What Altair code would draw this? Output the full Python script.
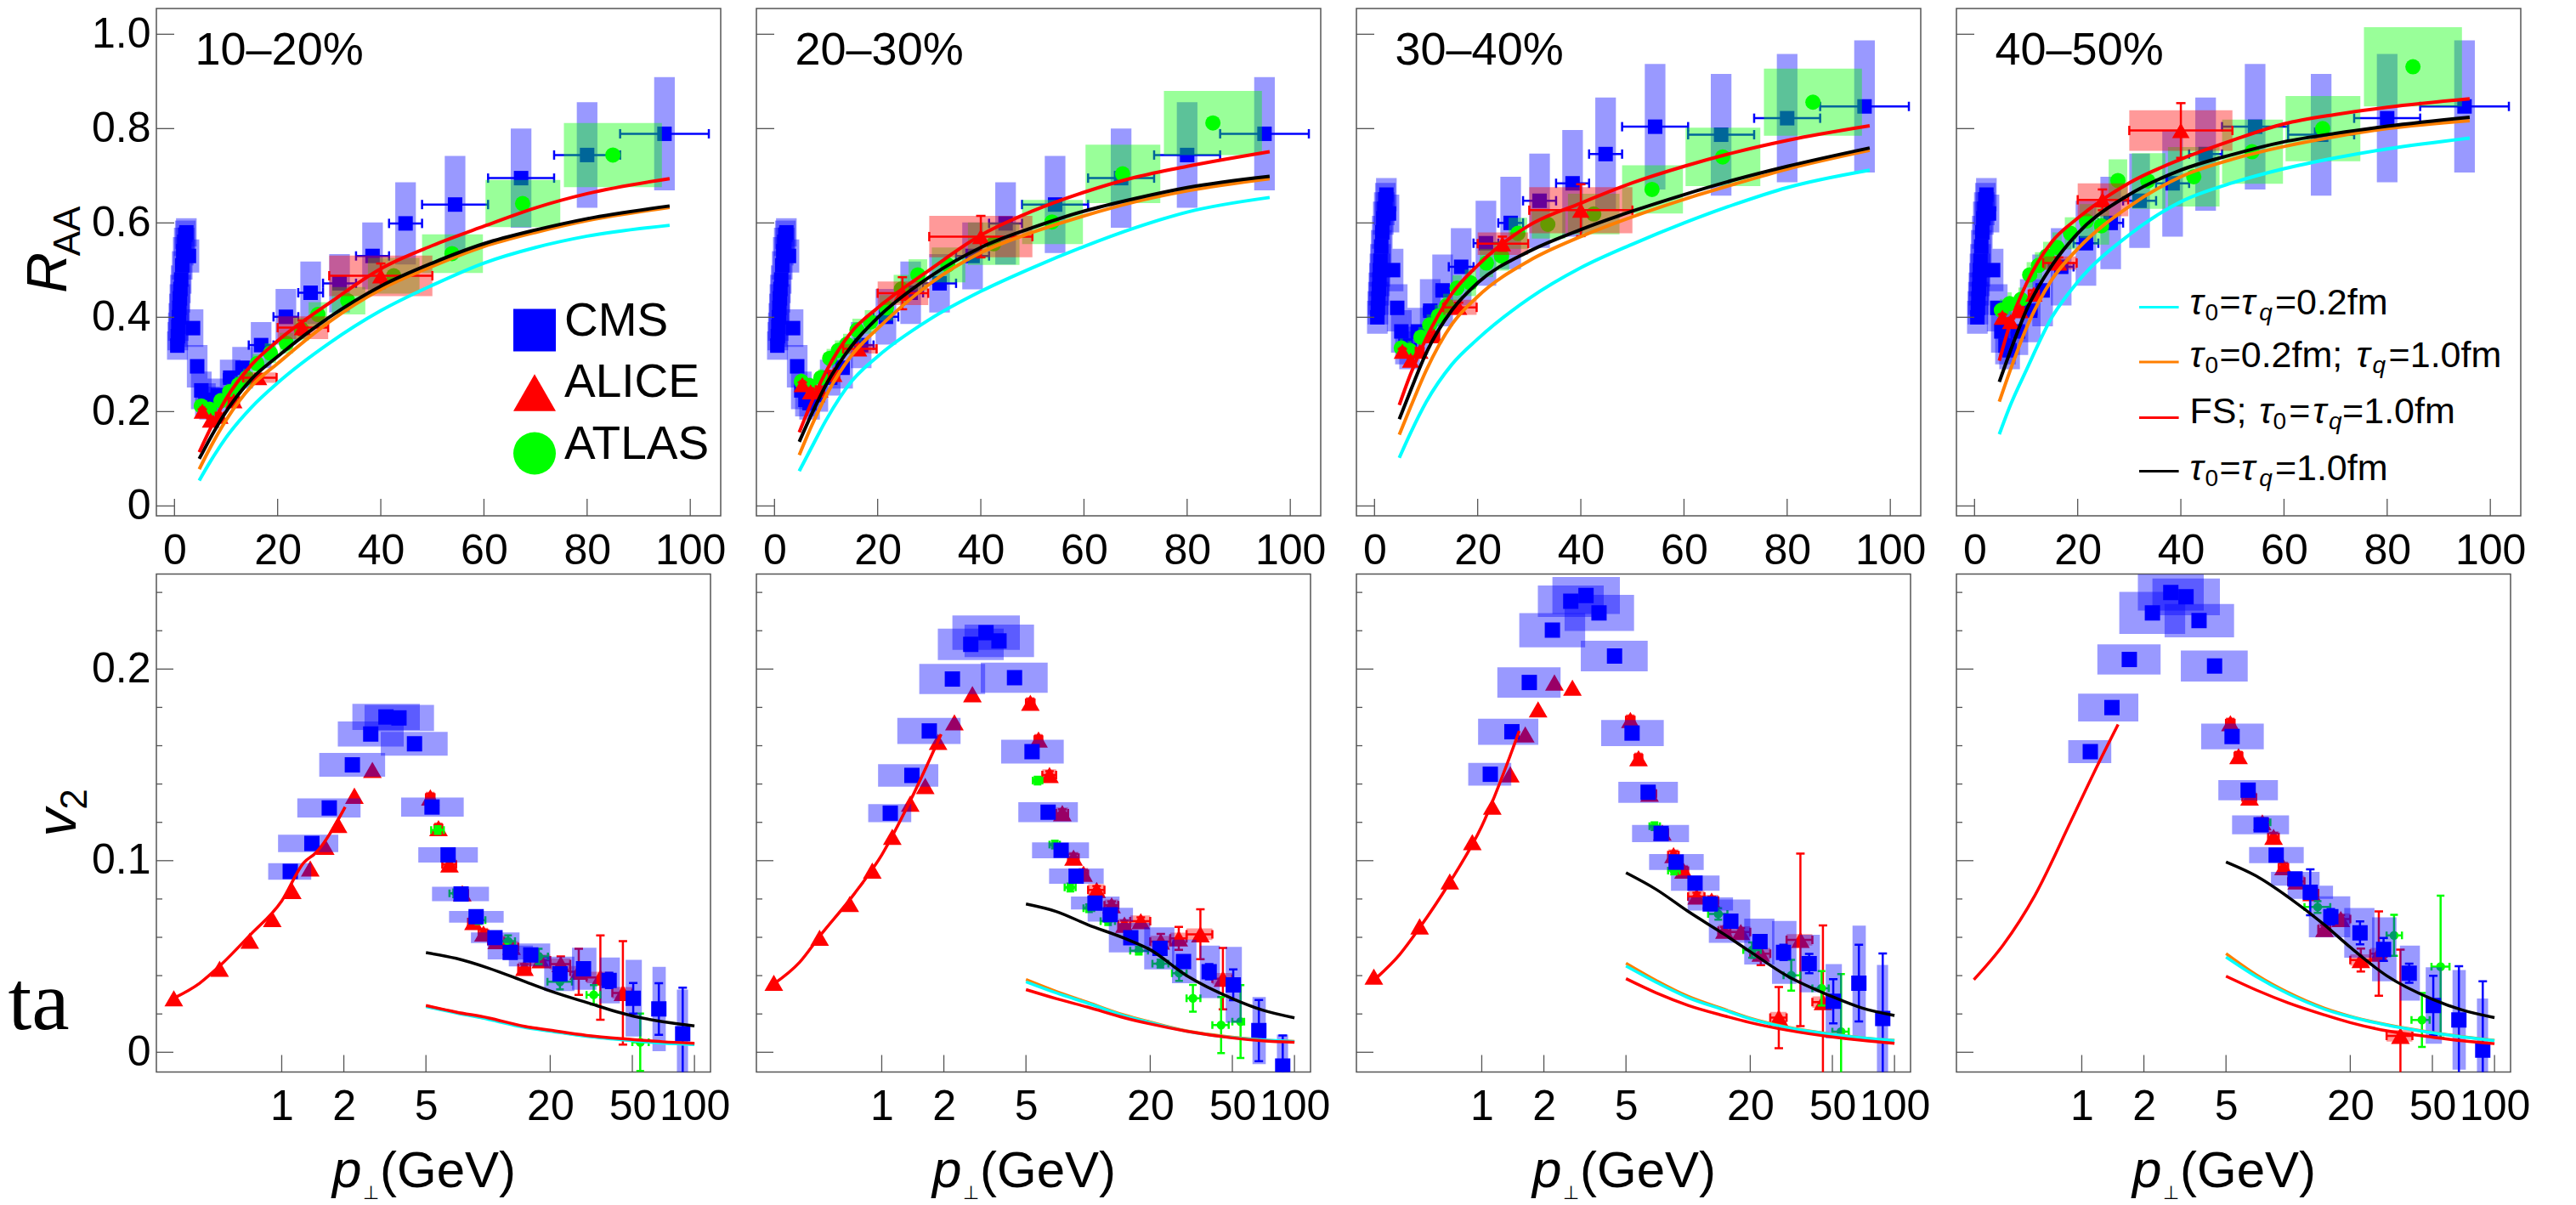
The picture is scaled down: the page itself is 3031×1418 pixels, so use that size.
import altair as alt
import pandas as pd

FONT = "Liberation Sans"
SERIF = "Liberation Serif"
SYMF = "DejaVu Sans"

# ---------------- labels / ticks ----------------
top_titles = ["10–20%", "20–30%", "30–40%", "40–50%"]
top_xticks = [0, 20, 40, 60, 80, 100]
top_yticks = [0, 0.2, 0.4, 0.6, 0.8, 1.0]
bot_xticks = [1, 2, 5, 20, 50, 100]
bot_yticks_major = [0, 0.1, 0.2]
bot_yticks_minor = [0.02, 0.04, 0.06, 0.08, 0.12, 0.14, 0.16, 0.18, 0.22, 0.24]

# ---------------- R_AA : CMS ----------------
cms_raa_edges = [0.5, 0.6, 0.7, 0.8, 0.9, 1.0, 1.1, 1.2, 1.4, 1.6, 1.8, 2.0, 2.2, 2.4, 3.2, 4.0, 4.8,
                 5.6, 6.4, 7.2, 9.6, 12.0, 14.4, 19.2, 24.0, 28.8, 35.2, 41.6, 48.0, 60.8, 73.6, 86.4, 103.6]
cms_raa_10_30 = [0.34, 0.36, 0.38, 0.40, 0.42, 0.44, 0.46, 0.48, 0.51, 0.54, 0.56, 0.575, 0.58, 0.53,
                 0.377, 0.296, 0.245, 0.225, 0.218, 0.235, 0.272, 0.293, 0.341, 0.401, 0.452, 0.472,
                 0.53, 0.599, 0.639, 0.695, 0.744, 0.789]
cms_raa_sys_10_30 = [0.03, 0.03, 0.03, 0.03, 0.03, 0.03, 0.03, 0.03, 0.03, 0.03, 0.03, 0.03, 0.03, 0.035,
                     0.04, 0.045, 0.04, 0.035, 0.035, 0.035, 0.038, 0.044, 0.049, 0.059, 0.066, 0.062,
                     0.071, 0.087, 0.103, 0.105, 0.112, 0.12]
cms_raa_30_50 = [0.40, 0.42, 0.44, 0.46, 0.48, 0.50, 0.52, 0.55, 0.58, 0.61, 0.63, 0.65, 0.66, 0.62,
                 0.50, 0.42, 0.37, 0.34, 0.33, 0.37, 0.414, 0.457, 0.507, 0.557, 0.60, 0.647, 0.684,
                 0.746, 0.804, 0.787, 0.822, 0.847]
cms_raa_sys_30_50 = [0.035, 0.035, 0.035, 0.035, 0.035, 0.035, 0.035, 0.035, 0.035, 0.035, 0.035, 0.035,
                     0.035, 0.04, 0.045, 0.05, 0.045, 0.04, 0.04, 0.05, 0.067, 0.076, 0.082, 0.09, 0.098,
                     0.10, 0.113, 0.12, 0.133, 0.129, 0.136, 0.14]

# ---------------- R_AA : ALICE ----------------
alice_raa_pt = [5.4, 7.0, 8.8, 11.5, 16.3, 24.8, 40.0]
alice_raa_lo = [5.0, 6.5, 8.0, 10.5, 13.3, 20.0, 30.0]
alice_raa_hi = [5.8, 7.5, 9.5, 12.5, 19.8, 29.8, 50.0]
alice_raa_1020 = [0.201, 0.182, 0.19, 0.223, 0.272, 0.378, 0.488]
alice_raa_2030 = [0.257, 0.242, 0.246, 0.279, 0.333, 0.451, 0.571]
alice_raa_3040 = [0.328, 0.309, 0.328, 0.361, 0.421, 0.556, 0.627]
alice_raa_4050 = [0.40, 0.391, 0.414, 0.449, 0.515, 0.649, 0.796]
alice_raa_sys_1020 = [0.008, 0.008, 0.008, 0.009, 0.011, 0.024, 0.043]
alice_raa_sys_2030 = [0.009, 0.009, 0.009, 0.010, 0.010, 0.025, 0.044]
alice_raa_sys_3040 = [0.010, 0.010, 0.010, 0.011, 0.016, 0.024, 0.049]
alice_raa_sys_4050 = [0.011, 0.011, 0.011, 0.012, 0.014, 0.035, 0.043]
alice_raa_stat_1020 = [0.004, 0.004, 0.005, 0.006, 0.008, 0.015, 0.026]
alice_raa_stat_2030 = [0.005, 0.005, 0.006, 0.007, 0.009, 0.034, 0.044]
alice_raa_stat_3040 = [0.005, 0.006, 0.006, 0.007, 0.010, 0.015, 0.055]
alice_raa_stat_4050 = [0.006, 0.006, 0.007, 0.008, 0.012, 0.022, 0.058]

# ---------------- R_AA : ATLAS ----------------
atlas_raa_pt = [5.2, 6.8, 9.0, 10.7, 12.4, 14.0, 16.0, 18.6, 21.7, 24.6, 27.8, 33.6, 42.5, 53.8, 67.5, 85.0]
atlas_raa_lo = [4.9, 6.4, 8.5, 10.1, 11.7, 13.3, 15.1, 17.5, 20.4, 23.1, 26.0, 30.5, 37.5, 48.0, 60.3, 75.5]
atlas_raa_hi = [5.5, 7.2, 9.5, 11.3, 13.1, 14.7, 16.9, 19.7, 23.0, 26.1, 29.6, 37.0, 47.5, 59.8, 74.8, 94.5]
atlas_raa_1020 = [0.212, 0.205, 0.223, 0.242, 0.257, 0.272, 0.302, 0.324, 0.345, 0.375, 0.406, 0.435,
                  0.488, 0.535, 0.641, 0.744]
atlas_raa_2030 = [0.264, 0.255, 0.272, 0.313, 0.33, 0.343, 0.373, 0.39, 0.42, 0.46, 0.49, 0.511, 0.556,
                  0.602, 0.704, 0.812]
atlas_raa_3040 = [0.335, 0.33, 0.358, 0.384, 0.403, 0.425, 0.462, 0.473, 0.515, 0.53, 0.578, 0.597, 0.619,
                  0.671, 0.74, 0.856]
atlas_raa_4050 = [0.415, 0.429, 0.438, 0.49, 0.51, 0.53, 0.548, 0.578, 0.604, 0.594, 0.69, 0.689, 0.698,
                  0.751, 0.80, 0.931]
atlas_raa_sys_1020 = [0.015, 0.015, 0.016, 0.017, 0.018, 0.019, 0.02, 0.021, 0.022, 0.024, 0.026, 0.029,
                      0.038, 0.041, 0.05, 0.068]
atlas_raa_sys_2030 = [0.017, 0.017, 0.018, 0.02, 0.021, 0.022, 0.024, 0.025, 0.027, 0.03, 0.033, 0.037,
                      0.045, 0.047, 0.062, 0.068]
atlas_raa_sys_3040 = [0.02, 0.02, 0.021, 0.022, 0.023, 0.025, 0.027, 0.028, 0.03, 0.031, 0.033, 0.03,
                      0.043, 0.051, 0.062, 0.071]
atlas_raa_sys_4050 = [0.024, 0.024, 0.025, 0.027, 0.028, 0.03, 0.032, 0.034, 0.036, 0.04, 0.045, 0.059,
                      0.063, 0.068, 0.069, 0.084]

# ---------------- R_AA : model curves ----------------
curve_top_pt = [4.8, 7, 10, 15, 20, 30, 40, 50, 60, 70, 80, 96]
raa_cyan_1020 = [0.054, 0.095, 0.145, 0.21, 0.261, 0.345, 0.414, 0.468, 0.515, 0.548, 0.572, 0.595]
raa_orange_1020 = [0.078, 0.125, 0.182, 0.255, 0.302, 0.39, 0.459, 0.508, 0.55, 0.58, 0.605, 0.633]
raa_red_1020 = [0.114, 0.165, 0.227, 0.30, 0.35, 0.43, 0.503, 0.552, 0.593, 0.632, 0.662, 0.694]
raa_black_1020 = [0.10, 0.145, 0.20, 0.27, 0.317, 0.40, 0.466, 0.515, 0.556, 0.585, 0.609, 0.636]
raa_cyan_2030 = [0.074, 0.12, 0.182, 0.265, 0.317, 0.395, 0.455, 0.505, 0.55, 0.59, 0.623, 0.654]
raa_orange_2030 = [0.108, 0.165, 0.234, 0.32, 0.376, 0.47, 0.537, 0.58, 0.615, 0.645, 0.668, 0.694]
raa_red_2030 = [0.156, 0.215, 0.285, 0.37, 0.42, 0.50, 0.574, 0.625, 0.665, 0.697, 0.72, 0.751]
raa_black_2030 = [0.136, 0.19, 0.257, 0.34, 0.399, 0.485, 0.548, 0.59, 0.625, 0.652, 0.675, 0.699]
raa_cyan_3040 = [0.102, 0.155, 0.22, 0.30, 0.354, 0.44, 0.505, 0.555, 0.60, 0.64, 0.675, 0.712]
raa_orange_3040 = [0.151, 0.21, 0.287, 0.385, 0.444, 0.52, 0.571, 0.613, 0.65, 0.683, 0.714, 0.754]
raa_red_3040 = [0.214, 0.28, 0.355, 0.45, 0.51, 0.595, 0.642, 0.685, 0.72, 0.75, 0.775, 0.806]
raa_black_3040 = [0.184, 0.245, 0.324, 0.415, 0.473, 0.54, 0.586, 0.625, 0.66, 0.692, 0.72, 0.759]
raa_cyan_4050 = [0.152, 0.215, 0.287, 0.40, 0.475, 0.575, 0.645, 0.685, 0.715, 0.738, 0.757, 0.78]
raa_orange_4050 = [0.221, 0.29, 0.376, 0.48, 0.545, 0.635, 0.698, 0.735, 0.762, 0.783, 0.80, 0.817]
raa_red_4050 = [0.308, 0.39, 0.47, 0.56, 0.61, 0.685, 0.735, 0.775, 0.81, 0.83, 0.845, 0.863]
raa_black_4050 = [0.263, 0.33, 0.414, 0.51, 0.578, 0.66, 0.712, 0.745, 0.772, 0.79, 0.805, 0.824]

# ---------------- v2 : CMS ----------------
cms_v2_pt = [1.1, 1.4, 1.7, 2.2, 2.7, 3.2, 3.7, 4.4, 5.35, 6.4, 7.4, 8.75, 10.8, 12.8, 16.1, 22.3, 29.0,
             38.6, 50.5, 67.2, 87.7]
cms_v2_box_lo = [0.86, 0.96, 1.19, 1.52, 1.87, 2.20, 2.52, 3.02, 3.79, 4.59, 5.35, 6.47, 8.26, 9.95, 12.6,
                 18.7, 25.5, 34.8, 46.4, 62.6, 82.2]
cms_v2_box_hi = [1.39, 1.88, 2.41, 3.17, 3.90, 4.67, 5.47, 6.37, 7.62, 8.92, 10.1, 11.9, 14.2, 16.5, 20.0,
                 26.2, 33.5, 43.5, 55.6, 72.6, 93.1]
cms_v2_1020 = [0.0944, 0.109, 0.1275, 0.150, 0.1661, 0.175, 0.1745, 0.161, 0.128, 0.103, 0.0826, 0.0707,
               0.0598, 0.0521, 0.0508, 0.0409, 0.0436, 0.0375, 0.0282, 0.0226, 0.0097]
cms_v2_2030 = [0.1248, 0.1445, 0.1677, 0.1948, 0.2129, 0.219, 0.2147, 0.1955, 0.1569, 0.1253, 0.1054, 0.0919,
               0.0779, 0.0718, 0.0598, 0.0542, 0.0474, 0.042, 0.0352, 0.0113, -0.0072]
cms_v2_3040 = [0.1451, 0.1673, 0.193, 0.2203, 0.2354, 0.2384, 0.2293, 0.2068, 0.1666, 0.1357, 0.1142, 0.0993,
               0.0883, 0.0774, 0.0684, 0.0578, 0.0521, 0.0463, 0.0266, 0.0361, 0.0176]
cms_v2_4050 = [0.1569, 0.1799, 0.205, 0.2293, 0.24, 0.2377, 0.2253, 0.2016, 0.1648, 0.1368, 0.1187, 0.1029,
               0.0905, 0.0835, 0.0707, 0.0623, 0.0537, 0.0413, 0.0244, 0.0169, 0.0011]
cms_v2_sys_1020 = [0.0043, 0.0045, 0.005, 0.0062, 0.0065, 0.0068, 0.0068, 0.0062, 0.005, 0.004, 0.0038, 0.003,
                   0.0028, 0.0036, 0.006, 0.009, 0.011, 0.012, 0.02, 0.022, 0.023]
cms_v2_sys_2030 = [0.0047, 0.0059, 0.0068, 0.0079, 0.0082, 0.009, 0.0085, 0.0079, 0.0062, 0.0052, 0.0042,
                   0.004, 0.0034, 0.0036, 0.0077, 0.011, 0.0114, 0.0137, 0.0198, 0.0175, 0.0164]
cms_v2_sys_3040 = [0.0059, 0.0068, 0.0079, 0.0089, 0.0082, 0.0096, 0.0094, 0.008, 0.0068, 0.0055, 0.0045,
                   0.0042, 0.004, 0.0034, 0.0113, 0.012, 0.0164, 0.015, 0.0194, 0.03, 0.028]
cms_v2_sys_4050 = [0.006, 0.0073, 0.0079, 0.011, 0.0095, 0.0096, 0.0087, 0.0081, 0.0067, 0.0053, 0.0049,
                   0.0042, 0.0036, 0.0034, 0.0107, 0.013, 0.0167, 0.0144, 0.02, 0.026, 0.027]
cms_v2_stat_1020 = [0.001, 0.001, 0.001, 0.001, 0.001, 0.001, 0.001, 0.001, 0.001, 0.001, 0.001, 0.001,
                    0.001, 0.001, 0.001, 0.002, 0.003, 0.004, 0.008, 0.0135, 0.024]
cms_v2_stat_2030 = [0.001, 0.001, 0.001, 0.001, 0.001, 0.001, 0.001, 0.001, 0.001, 0.001, 0.001, 0.001,
                    0.001, 0.001, 0.001, 0.002, 0.003, 0.004, 0.008, 0.016, 0.016]
cms_v2_stat_3040 = [0.001, 0.001, 0.001, 0.001, 0.001, 0.001, 0.001, 0.001, 0.001, 0.001, 0.001, 0.001,
                    0.001, 0.001, 0.001, 0.002, 0.004, 0.005, 0.0115, 0.02, 0.034]
cms_v2_stat_4050 = [0.001, 0.001, 0.001, 0.001, 0.001, 0.001, 0.001, 0.001, 0.001, 0.001, 0.001, 0.001,
                    0.001, 0.012, 0.004, 0.006, 0.006, 0.005, 0.0155, 0.028, 0.036]

# ---------------- v2 : ALICE ----------------
alice_v2_low_pt = [0.3, 0.5, 0.7, 0.9, 1.125, 1.375, 1.625, 1.875, 2.25, 2.75]
alice_v2_low_1020 = [0.0282, 0.0436, 0.0582, 0.0695, 0.0842, 0.0959, 0.1072, 0.1187, 0.1339, 0.1474]
alice_v2_low_2030 = [0.0363, 0.0598, 0.0774, 0.0948, 0.1124, 0.1298, 0.139, 0.162, 0.1722, 0.1869]
alice_v2_low_3040 = [0.0395, 0.0657, 0.0892, 0.1097, 0.1282, 0.1451, 0.1659, 0.179, 0.193, 0.1903]
alice_v2_low_4050 = []
alice_v2_pt = [5.25, 5.75, 6.5, 7.5, 8.5, 9.5, 11.0, 13.0, 15.0, 18.0, 22.5, 27.5, 35.0, 45.0]
alice_v2_lo = [5.0, 5.5, 6.0, 7.0, 8.0, 9.0, 10.0, 12.0, 14.0, 16.0, 20.0, 25.0, 30.0, 40.0]
alice_v2_hi = [5.5, 6.0, 7.0, 8.0, 9.0, 10.0, 12.0, 14.0, 16.0, 20.0, 25.0, 30.0, 40.0, 50.0]
alice_v2_1020 = [0.133, 0.117, 0.098, 0.083, 0.068, 0.062, 0.058, 0.055, 0.044, 0.048, 0.046, 0.042, 0.039, 0.031]
alice_v2_2030 = [0.1824, 0.1632, 0.1447, 0.1248, 0.1016, 0.0932, 0.0847, 0.0767, 0.0666, 0.0684, 0.0578,
                 0.0594, 0.0616, 0.0384]
alice_v2_3040 = [0.1734, 0.1535, 0.135, 0.1147, 0.1029, 0.0948, 0.0813, 0.0792, 0.0634, 0.0628, 0.0515,
                 0.0181, 0.0587, 0.0262]
alice_v2_4050 = [0.1718, 0.1546, 0.133, 0.12, 0.1124, 0.0966, 0.0892, 0.0831, 0.0643, 0.0695, 0.0481,
                 0.0515, 0.0086]
alice_v2_stat_1020 = [0.002, 0.002, 0.002, 0.002, 0.002, 0.002, 0.002, 0.002, 0.002, 0.002, 0.004, 0.012, 0.022, 0.027]
alice_v2_stat_2030 = [0.002, 0.002, 0.002, 0.002, 0.002, 0.002, 0.002, 0.002, 0.002, 0.002, 0.004, 0.006, 0.013, 0.016]
alice_v2_stat_3040 = [0.002, 0.002, 0.002, 0.002, 0.002, 0.002, 0.002, 0.002, 0.002, 0.002, 0.006, 0.016, 0.045, 0.04]
alice_v2_stat_4050 = [0.002, 0.002, 0.002, 0.002, 0.002, 0.002, 0.002, 0.002, 0.002, 0.002, 0.006, 0.022, 0.045]

# ---------------- v2 : ATLAS ----------------
atlas_v2_pt_1020 = [5.7, 7.0, 9.0, 12.5, 17.6, 22.3, 32.5, 54.6]
atlas_v2_1020 = [0.116, 0.083, 0.069, 0.058, 0.05, 0.0368, 0.030, 0.0052]
atlas_v2_err_1020 = [0.002, 0.002, 0.002, 0.003, 0.004, 0.004, 0.005, 0.015]
atlas_v2_lo_1020 = [5.3, 6.5, 8.3, 11.5, 16.0, 19.4, 30.0, 50.0]
atlas_v2_hi_1020 = [6.1, 7.5, 9.7, 13.5, 19.5, 25.5, 35.0, 60.0]
atlas_v2_pt_2030 = [5.69, 6.9, 8.2, 10.1, 12.5, 17.6, 22.4, 27.6, 32.2, 44.1, 54.8]
atlas_v2_2030 = [0.1418, 0.1084, 0.086, 0.0752, 0.0684, 0.053, 0.0463, 0.0413, 0.0282, 0.0142, 0.016]
atlas_v2_err_2030 = [0.002, 0.002, 0.002, 0.002, 0.002, 0.002, 0.002, 0.004, 0.007, 0.0146, 0.019]
atlas_v2_lo_2030 = [5.4, 6.5, 7.7, 9.5, 11.5, 16.0, 20.5, 25.5, 30.0, 40.0, 50.0]
atlas_v2_hi_2030 = [6.0, 7.3, 8.7, 10.7, 13.5, 19.5, 24.5, 30.0, 35.0, 48.0, 57.0]
atlas_v2_pt_3040 = [6.87, 8.55, 14.0, 20.4, 31.6, 44.3, 55.1]
atlas_v2_3040 = [0.118, 0.0948, 0.0722, 0.0533, 0.0402, 0.0334, 0.0108]
atlas_v2_err_3040 = [0.002, 0.002, 0.003, 0.004, 0.008, 0.009, 0.03]
atlas_v2_lo_3040 = [6.5, 8.0, 12.5, 18.5, 29.0, 40.0, 50.0]
atlas_v2_hi_3040 = [7.3, 9.1, 15.5, 22.5, 35.0, 48.0, 60.0]
atlas_v2_pt_4050 = [7.57, 13.9, 32.6, 44.5, 54.8]
atlas_v2_4050 = [0.12, 0.0758, 0.061, 0.0169, 0.0447]
atlas_v2_err_4050 = [0.002, 0.003, 0.0107, 0.0141, 0.037]
atlas_v2_lo_4050 = [7.0, 12.0, 30.0, 39.6, 49.5]
atlas_v2_hi_4050 = [8.2, 16.0, 35.6, 48.5, 60.5]

# ---------------- v2 : model curves ----------------
curve_bot_pt = [5, 7, 10, 15, 20, 30, 50, 70, 100]
v2_cyan_1020 = [0.0238, 0.0205, 0.0172, 0.013, 0.011, 0.0083, 0.006, 0.0048, 0.004]
v2_orange_1020 = [0.0242, 0.0208, 0.0175, 0.0133, 0.0112, 0.0085, 0.0062, 0.005, 0.0042]
v2_red_1020 = [0.0244, 0.021, 0.018, 0.0135, 0.0115, 0.0088, 0.0067, 0.0055, 0.0047]
v2_black_1020 = [0.052, 0.049, 0.044, 0.037, 0.032, 0.026, 0.019, 0.016, 0.0138]
v2_cyan_2030 = [0.0368, 0.031, 0.0255, 0.019, 0.0155, 0.011, 0.0077, 0.0064, 0.0056]
v2_orange_2030 = [0.038, 0.0318, 0.026, 0.0194, 0.0158, 0.0112, 0.0079, 0.0065, 0.0057]
v2_red_2030 = [0.0327, 0.028, 0.0235, 0.018, 0.0148, 0.011, 0.0075, 0.006, 0.0052]
v2_black_2030 = [0.0774, 0.0735, 0.0665, 0.0595, 0.0535, 0.040, 0.028, 0.022, 0.018]
v2_cyan_3040 = [0.045, 0.0365, 0.0285, 0.022, 0.0175, 0.013, 0.0093, 0.0075, 0.0061]
v2_orange_3040 = [0.0465, 0.0375, 0.0292, 0.0224, 0.0178, 0.0132, 0.0094, 0.0076, 0.0062]
v2_red_3040 = [0.0384, 0.031, 0.0245, 0.019, 0.0155, 0.0116, 0.008, 0.0062, 0.0047]
v2_black_3040 = [0.0937, 0.085, 0.0735, 0.0615, 0.0525, 0.040, 0.029, 0.023, 0.0192]
v2_cyan_4050 = [0.0497, 0.0395, 0.0305, 0.0225, 0.0185, 0.0142, 0.0102, 0.008, 0.0061]
v2_orange_4050 = [0.0515, 0.0405, 0.0312, 0.023, 0.0188, 0.0144, 0.0103, 0.0081, 0.0062]
v2_red_4050 = [0.0397, 0.0325, 0.0258, 0.0195, 0.0155, 0.0112, 0.0079, 0.006, 0.0045]
v2_black_4050 = [0.0993, 0.092, 0.081, 0.0665, 0.0548, 0.040, 0.0277, 0.022, 0.0181]

hydro_pt_1020 = [0.3, 0.4, 0.5, 0.7, 1.0, 1.28, 1.46, 2.03]
hydro_v2_1020 = [0.0282, 0.036, 0.045, 0.061, 0.079, 0.099, 0.104, 0.128]
hydro_pt_2030 = [0.3, 0.4, 0.5, 0.74, 1.0, 1.38, 1.94]
hydro_v2_2030 = [0.0357, 0.047, 0.0605, 0.083, 0.103, 0.1316, 0.166]
hydro_pt_3040 = [0.31, 0.4, 0.5, 0.7, 1.0, 1.52]
hydro_v2_3040 = [0.039, 0.051, 0.065, 0.0887, 0.118, 0.1677]
hydro_pt_4050 = [0.30, 0.416, 0.593, 0.883, 1.15, 1.50]
hydro_v2_4050 = [0.0379, 0.056, 0.0819, 0.1203, 0.1463, 0.1711]

# ---------------- styling / geometry ----------------
TOP_W, TOP_H = 664, 597
BOT_W, BOT_H = 652, 586
TOP_X = [-3.51, 105.9]
TOP_Y = [-0.0209, 1.0546]
BOT_X = [0.247, 119.6]
BOT_Y = [-0.0103, 0.2496]
BLUE, RED, GREEN = "#0000ff", "#ff0000", "#00ff00"
CYAN, ORANGE, BLACK = "#00ffff", "#ff7f00", "#000000"
TICK = "#555555"
CMS_BOX_HALF = 2.0
LW = 4
DUMMY = pd.DataFrame({"d": [0]})


def ax_x(values, fmt=None):
    kw = dict(values=values, title=None, ticks=False, tickSize=0, domain=False, grid=False,
              labelFont=FONT, labelFontSize=50, labelColor="black", labelFlush=False,
              labelOverlap=False, labelPadding=16)
    if fmt:
        kw["format"] = fmt
    return alt.Axis(**kw)


def ax_y(values):
    return alt.Axis(values=values, title=None, ticks=False, tickSize=0, domain=False, grid=False,
                    labelFont=FONT, labelFontSize=50, labelColor="black", labelFlush=False,
                    labelOverlap=False, labelPadding=7,
                    labelExpr="datum.value == 0 ? '0' : format(datum.value, '.1f')")


class Enc:
    def __init__(self, xs, ys, xax, yax):
        self.X = alt.X("x:Q", scale=xs, axis=xax)
        self.Y = alt.Y("y:Q", scale=ys, axis=yax)

    def rect(self, df, color, op=0.4):
        return alt.Chart(df).mark_rect(color=color, opacity=op, clip=True).encode(
            x=self.X, x2=alt.X2("x2:Q"), y=self.Y, y2=alt.Y2("y2:Q"))

    def hbar(self, df, color, w=2.5, cap=11):
        bar = alt.Chart(df).mark_rule(color=color, strokeWidth=w, clip=True).encode(
            x=self.X, x2=alt.X2("x2:Q"), y=self.Y)
        cdf = pd.concat([df[["x", "y"]], df[["x2", "y"]].rename(columns={"x2": "x"})])
        caps = alt.Chart(cdf).mark_tick(orient="vertical", size=cap, thickness=w, color=color,
                                        opacity=1, clip=True).encode(x=self.X, y=self.Y)
        return [bar, caps]

    def vbar(self, df, color, w=2.5, cap=11):
        bar = alt.Chart(df).mark_rule(color=color, strokeWidth=w, clip=True).encode(
            x=self.X, y=self.Y, y2=alt.Y2("y2:Q"))
        cdf = pd.concat([df[["x", "y"]], df[["x", "y2"]].rename(columns={"y2": "y"})])
        caps = alt.Chart(cdf).mark_tick(orient="horizontal", size=cap, thickness=w, color=color,
                                        opacity=1, clip=True).encode(x=self.X, y=self.Y)
        return [bar, caps]

    def pts(self, df, shape, size, color):
        return alt.Chart(df).mark_point(shape=shape, filled=True, size=size, color=color, opacity=1,
                                        strokeWidth=0, clip=True).encode(x=self.X, y=self.Y)

    def line(self, xs, ys, color, w=LW):
        df = pd.DataFrame({"x": xs, "y": ys})
        return alt.Chart(df).mark_line(color=color, strokeWidth=w, interpolate="monotone",
                                       clip=True).encode(x=self.X, y=self.Y)

    def xticks(self, vals, h, length):
        return alt.Chart(pd.DataFrame({"x": vals})).mark_rule(color=TICK, strokeWidth=1.3).encode(
            x=self.X, y=alt.value(h), y2=alt.value(h - length))

    def yticks(self, vals, length):
        return alt.Chart(pd.DataFrame({"y": vals})).mark_rule(color=TICK, strokeWidth=1.3).encode(
            y=self.Y, x=alt.value(0), x2=alt.value(length))


def txt(t, x, y, size, font=FONT, style="normal", align="left", baseline="alphabetic", angle=None,
        color="black"):
    kw = dict(text=t, font=font, fontSize=size, fontStyle=style, align=align, baseline=baseline,
              color=color)
    if angle is not None:
        kw["angle"] = angle
    return alt.Chart(DUMMY).mark_text(**kw).encode(x=alt.value(x), y=alt.value(y))


def seg_text(x0, y0, segs, main=43, sub=28, sub_dy=7):
    out = []
    for t, dx, kind in segs:
        is_sub = kind.startswith("s")
        it = kind.endswith("i")
        out.append(txt(t, x0 + dx, y0 + (sub_dy if is_sub else 0), sub if is_sub else main,
                       style="italic" if it else "normal"))
    return out


cms_raa_pt = [(a + b) / 2 for a, b in zip(cms_raa_edges[:-1], cms_raa_edges[1:])]

TOP_SETS = [
    dict(cms=cms_raa_10_30, cms_sys=cms_raa_sys_10_30, al=alice_raa_1020, al_sys=alice_raa_sys_1020,
         al_stat=alice_raa_stat_1020, at=atlas_raa_1020, at_sys=atlas_raa_sys_1020,
         cy=raa_cyan_1020, orr=raa_orange_1020, rd=raa_red_1020, bk=raa_black_1020),
    dict(cms=cms_raa_10_30, cms_sys=cms_raa_sys_10_30, al=alice_raa_2030, al_sys=alice_raa_sys_2030,
         al_stat=alice_raa_stat_2030, at=atlas_raa_2030, at_sys=atlas_raa_sys_2030,
         cy=raa_cyan_2030, orr=raa_orange_2030, rd=raa_red_2030, bk=raa_black_2030),
    dict(cms=cms_raa_30_50, cms_sys=cms_raa_sys_30_50, al=alice_raa_3040, al_sys=alice_raa_sys_3040,
         al_stat=alice_raa_stat_3040, at=atlas_raa_3040, at_sys=atlas_raa_sys_3040,
         cy=raa_cyan_3040, orr=raa_orange_3040, rd=raa_red_3040, bk=raa_black_3040),
    dict(cms=cms_raa_30_50, cms_sys=cms_raa_sys_30_50, al=alice_raa_4050, al_sys=alice_raa_sys_4050,
         al_stat=alice_raa_stat_4050, at=atlas_raa_4050, at_sys=atlas_raa_sys_4050,
         cy=raa_cyan_4050, orr=raa_orange_4050, rd=raa_red_4050, bk=raa_black_4050),
]

BOT_SETS = [
    dict(cms=cms_v2_1020, cms_sys=cms_v2_sys_1020, cms_stat=cms_v2_stat_1020,
         al_low=alice_v2_low_1020, al=alice_v2_1020, al_stat=alice_v2_stat_1020,
         at_pt=atlas_v2_pt_1020, at=atlas_v2_1020, at_err=atlas_v2_err_1020,
         at_lo=atlas_v2_lo_1020, at_hi=atlas_v2_hi_1020,
         cy=v2_cyan_1020, orr=v2_orange_1020, rd=v2_red_1020, bk=v2_black_1020,
         hx=hydro_pt_1020, hy=hydro_v2_1020),
    dict(cms=cms_v2_2030, cms_sys=cms_v2_sys_2030, cms_stat=cms_v2_stat_2030,
         al_low=alice_v2_low_2030, al=alice_v2_2030, al_stat=alice_v2_stat_2030,
         at_pt=atlas_v2_pt_2030, at=atlas_v2_2030, at_err=atlas_v2_err_2030,
         at_lo=atlas_v2_lo_2030, at_hi=atlas_v2_hi_2030,
         cy=v2_cyan_2030, orr=v2_orange_2030, rd=v2_red_2030, bk=v2_black_2030,
         hx=hydro_pt_2030, hy=hydro_v2_2030),
    dict(cms=cms_v2_3040, cms_sys=cms_v2_sys_3040, cms_stat=cms_v2_stat_3040,
         al_low=alice_v2_low_3040, al=alice_v2_3040, al_stat=alice_v2_stat_3040,
         at_pt=atlas_v2_pt_3040, at=atlas_v2_3040, at_err=atlas_v2_err_3040,
         at_lo=atlas_v2_lo_3040, at_hi=atlas_v2_hi_3040,
         cy=v2_cyan_3040, orr=v2_orange_3040, rd=v2_red_3040, bk=v2_black_3040,
         hx=hydro_pt_3040, hy=hydro_v2_3040),
    dict(cms=cms_v2_4050, cms_sys=cms_v2_sys_4050, cms_stat=cms_v2_stat_4050,
         al_low=alice_v2_low_4050, al=alice_v2_4050, al_stat=alice_v2_stat_4050,
         at_pt=atlas_v2_pt_4050, at=atlas_v2_4050, at_err=atlas_v2_err_4050,
         at_lo=atlas_v2_lo_4050, at_hi=atlas_v2_hi_4050,
         cy=v2_cyan_4050, orr=v2_orange_4050, rd=v2_red_4050, bk=v2_black_4050,
         hx=hydro_pt_4050, hy=hydro_v2_4050),
]


def top_panel(i):
    s = TOP_SETS[i]
    e = Enc(alt.Scale(domain=TOP_X, nice=False, zero=False),
            alt.Scale(domain=TOP_Y, nice=False, zero=False),
            ax_x(top_xticks), ax_y(top_yticks) if i == 0 else None)
    L = []
    # CMS
    L.append(e.rect(pd.DataFrame({
        "x": [p - CMS_BOX_HALF for p in cms_raa_pt], "x2": [p + CMS_BOX_HALF for p in cms_raa_pt],
        "y": [v - d for v, d in zip(s["cms"], s["cms_sys"])],
        "y2": [v + d for v, d in zip(s["cms"], s["cms_sys"])]}), BLUE))
    L += e.hbar(pd.DataFrame({"x": cms_raa_edges[:-1], "x2": cms_raa_edges[1:], "y": s["cms"]}), BLUE)
    L.append(e.pts(pd.DataFrame({"x": cms_raa_pt, "y": s["cms"]}), "square", 289, BLUE))
    # ATLAS
    L.append(e.rect(pd.DataFrame({
        "x": atlas_raa_lo, "x2": atlas_raa_hi,
        "y": [v - d for v, d in zip(s["at"], s["at_sys"])],
        "y2": [v + d for v, d in zip(s["at"], s["at_sys"])]}), GREEN))
    L.append(e.pts(pd.DataFrame({"x": atlas_raa_pt, "y": s["at"]}), "circle", 324, GREEN))
    # ALICE
    L.append(e.rect(pd.DataFrame({
        "x": alice_raa_lo, "x2": alice_raa_hi,
        "y": [v - d for v, d in zip(s["al"], s["al_sys"])],
        "y2": [v + d for v, d in zip(s["al"], s["al_sys"])]}), RED))
    L += e.hbar(pd.DataFrame({"x": alice_raa_lo, "x2": alice_raa_hi, "y": s["al"]}), RED)
    L += e.vbar(pd.DataFrame({"x": alice_raa_pt,
                              "y": [v - d for v, d in zip(s["al"], s["al_stat"])],
                              "y2": [v + d for v, d in zip(s["al"], s["al_stat"])]}), RED)
    L.append(e.pts(pd.DataFrame({"x": alice_raa_pt, "y": s["al"]}), "triangle-up", 420, RED))
    # model curves
    L.append(e.line(curve_top_pt, s["cy"], CYAN))
    L.append(e.line(curve_top_pt, s["orr"], ORANGE))
    L.append(e.line(curve_top_pt, s["bk"], BLACK))
    L.append(e.line(curve_top_pt, s["rd"], RED))
    # frame ticks
    L.append(e.xticks(top_xticks, TOP_H, 20))
    L.append(e.yticks(top_yticks, 21))
    # centrality label
    L.append(txt(top_titles[i], 45.5, 65.5, 54))
    if i == 0:
        # y title R_AA
        L.append(txt("R", -106, 311, 66, style="italic", align="center", angle=270))
        L.append(txt("AA", -90, 262, 44, align="center", angle=270))
        # experiment legend
        L.append(alt.Chart(DUMMY).mark_point(shape="square", filled=True, size=2500, color=BLUE,
                                             opacity=1, strokeWidth=0).encode(
            x=alt.value(445), y=alt.value(378.5)))
        L.append(alt.Chart(DUMMY).mark_point(shape="triangle-up", filled=True, size=2500, color=RED,
                                             opacity=1, strokeWidth=0).encode(
            x=alt.value(445), y=alt.value(452)))
        L.append(alt.Chart(DUMMY).mark_point(shape="circle", filled=True, size=2500, color=GREEN,
                                             opacity=1, strokeWidth=0).encode(
            x=alt.value(445), y=alt.value(523.5)))
        L.append(txt("CMS", 480, 384.8, 55))
        L.append(txt("ALICE", 480, 457.3, 55))
        L.append(txt("ATLAS", 480, 529.9, 55))
    if i == 3:
        rows = [
            (CYAN, 351.6, 359.9, [("τ", 0, "mi"), ("0", 17.8, "s"), ("=", 35, "m"), ("τ", 60.7, "mi"),
                                  ("q", 81.6, "si"), ("=0.2fm", 100.3, "m")]),
            (ORANGE, 415.9, 421.9, [("τ", 0, "mi"), ("0", 17.8, "s"), ("=0.2fm;", 35, "m"),
                                    ("τ", 196, "mi"), ("q", 215, "si"), ("=1.0fm", 234, "m")]),
            (RED, 481.4, 488.4, [("FS;", 0, "m"), ("τ", 81.6, "mi"), ("0", 98, "s"), ("=", 116.6, "m"),
                                 ("τ", 144.6, "mi"), ("q", 163.3, "si"), ("=1.0fm", 179.5, "m")]),
            (BLACK, 544.4, 554.7, [("τ", 0, "mi"), ("0", 17.8, "s"), ("=", 35, "m"), ("τ", 60.7, "mi"),
                                   ("q", 81.6, "si"), ("=1.0fm", 100.3, "m")]),
        ]
        for col, ly, by, segs in rows:
            L.append(alt.Chart(DUMMY).mark_rule(color=col, strokeWidth=3).encode(
                x=alt.value(215), x2=alt.value(261.6), y=alt.value(ly)))
            L += seg_text(274.6, by, segs)
    return alt.layer(*L).properties(width=TOP_W, height=TOP_H)


def bot_panel(i):
    s = BOT_SETS[i]
    e = Enc(alt.Scale(type="log", domain=BOT_X, nice=False),
            alt.Scale(domain=BOT_Y, nice=False, zero=False),
            ax_x(bot_xticks, "d"), ax_y(bot_yticks_major) if i == 0 else None)
    n_al = len(s["al"])
    apt, alo, ahi = alice_v2_pt[:n_al], alice_v2_lo[:n_al], alice_v2_hi[:n_al]
    L = []
    # ALICE
    L.append(e.rect(pd.DataFrame({"x": alo, "x2": ahi, "y": [v - 0.003 for v in s["al"]],
                                  "y2": [v + 0.003 for v in s["al"]]}), RED))
    L += e.hbar(pd.DataFrame({"x": alo, "x2": ahi, "y": s["al"]}), RED, cap=10)
    L += e.vbar(pd.DataFrame({"x": apt, "y": [v - d for v, d in zip(s["al"], s["al_stat"])],
                              "y2": [v + d for v, d in zip(s["al"], s["al_stat"])]}), RED, cap=10)
    L.append(e.pts(pd.DataFrame({"x": apt, "y": s["al"]}), "triangle-up", 484, RED))
    if s["al_low"]:
        L.append(e.pts(pd.DataFrame({"x": alice_v2_low_pt[:len(s["al_low"])], "y": s["al_low"]}),
                       "triangle-up", 484, RED))
    # ATLAS
    L += e.hbar(pd.DataFrame({"x": s["at_lo"], "x2": s["at_hi"], "y": s["at"]}), GREEN, cap=9)
    L += e.vbar(pd.DataFrame({"x": s["at_pt"], "y": [v - d for v, d in zip(s["at"], s["at_err"])],
                              "y2": [v + d for v, d in zip(s["at"], s["at_err"])]}), GREEN, cap=9)
    L.append(e.pts(pd.DataFrame({"x": s["at_pt"], "y": s["at"]}), "circle", 110, GREEN))
    # CMS
    L.append(e.rect(pd.DataFrame({"x": cms_v2_box_lo, "x2": cms_v2_box_hi,
                                  "y": [v - d for v, d in zip(s["cms"], s["cms_sys"])],
                                  "y2": [v + d for v, d in zip(s["cms"], s["cms_sys"])]}), BLUE))
    L += e.vbar(pd.DataFrame({"x": cms_v2_pt, "y": [v - d for v, d in zip(s["cms"], s["cms_stat"])],
                              "y2": [v + d for v, d in zip(s["cms"], s["cms_stat"])]}), BLUE, cap=10)
    L.append(e.pts(pd.DataFrame({"x": cms_v2_pt, "y": s["cms"]}), "square", 324, BLUE))
    # model curves
    L.append(e.line(curve_bot_pt, s["orr"], ORANGE, 3.5))
    L.append(e.line(curve_bot_pt, s["cy"], CYAN, 3.5))
    L.append(e.line(curve_bot_pt, s["rd"], RED, 3.5))
    L.append(e.line(curve_bot_pt, s["bk"], BLACK, 3.5))
    L.append(e.line(s["hx"], s["hy"], RED, 3.5))
    # frame ticks
    L.append(e.xticks(bot_xticks, BOT_H, 20))
    L.append(e.yticks(bot_yticks_major, 20))
    L.append(e.yticks(bot_yticks_minor, 7))
    # x title  p_perp (GeV)
    L.append(txt("p", 207, 721.5, 62, style="italic"))
    L.append(txt("⊥", 243, 735, 22, font=SYMF))
    L.append(txt("(GeV)", 263, 721.5, 60))
    if i == 0:
        L.append(txt("v", -95, 292.5, 66, style="italic", align="center", angle=270))
        L.append(txt("2", -82, 265, 44, align="center", angle=270))
        L.append(txt("ta", -174.5, 535.5, 100, font=SERIF))
    return alt.layer(*L).properties(width=BOT_W, height=BOT_H)


panels = [top_panel(i) for i in range(4)] + [bot_panel(i) for i in range(4)]
chart = alt.concat(*panels, columns=4, spacing={"row": 68.5, "column": 42}, bounds="flush").properties(
    padding={"left": 0, "top": 1, "right": 5, "bottom": 5}, background="white"
).configure_view(stroke="#555555", strokeWidth=1.5)

chart.save("out.html", embed_options={"renderer": "svg", "actions": False})
